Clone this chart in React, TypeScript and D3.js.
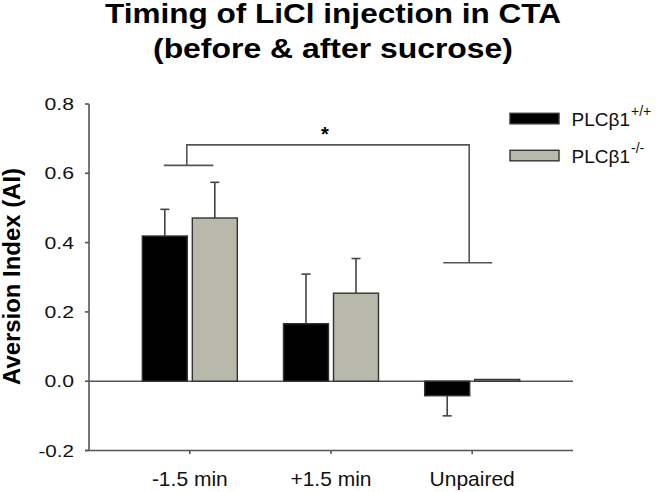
import React from "react";
import * as d3 from "d3";

const categories = ["-1.5 min", "+1.5 min", "Unpaired"];
const series = ["PLCβ1+/+", "PLCβ1-/-"];
const wtMeans = [0.419, 0.166, -0.042];
const wtErrs = [0.077, 0.143, 0.058];
const koMeans = [0.471, 0.254, 0.005];
const koErrs = [0.103, 0.1, 0];
const yTicks = [-0.2, 0.0, 0.2, 0.4, 0.6, 0.8];
const titleLines = ["Timing of LiCl injection in CTA", "(before & after sucrose)"];
const yLabel = "Aversion Index (AI)";
const legendLabels = [
  { base: "PLCβ1", sup: "+/+" },
  { base: "PLCβ1", sup: "-/-" },
];
// significance bracket levels (data units)
const bracketLow = 0.623;
const bracketTop = 0.682;
const bracketRight = 0.342;

const W = 672;
const H = 492;
const FONT = "'Liberation Sans', Arial, Helvetica, sans-serif";
const AXIS = "#555";
const colors = ["#000000", "#b8b8ab"];

export default function App() {
  const x = d3.scalePoint<string>().domain(categories).range([89, 573]).padding(0.714);
  const sub = d3.scaleBand<number>().domain([0, 1]).range([-47.5, 47.5]).paddingInner(0.1);
  const y = d3.scaleLinear().domain([-0.2, 0.8]).range([450.5, 104]);
  const bw = sub.bandwidth();
  const values = [wtMeans, koMeans];
  const errs = [wtErrs, koErrs];

  const bars: JSX.Element[] = [];
  const errorBars: JSX.Element[] = [];
  categories.forEach((c, i) => {
    values.forEach((vals, s) => {
      const v = vals[i];
      const e = errs[s][i];
      const bx = (x(c) as number) + (sub(s) as number);
      const y0 = y(0);
      const yv = y(v);
      const cx = bx + bw / 2;
      if (e > 0) {
        const yEnd = v >= 0 ? y(v + e) : y(v - e);
        errorBars.push(
          <g key={`e${i}-${s}`} stroke="#444" strokeWidth={1.6}>
            <line x1={cx} x2={cx} y1={yv} y2={yEnd} />
            <line x1={cx - 4.5} x2={cx + 4.5} y1={yEnd} y2={yEnd} />
          </g>
        );
      }
      bars.push(
        <rect
          key={`b${i}-${s}`}
          x={bx}
          y={Math.min(y0, yv)}
          width={bw}
          height={Math.max(1, Math.abs(y0 - yv))}
          fill={colors[s]}
          stroke="#333"
          strokeWidth={1.4}
        />
      );
    });
  });

  const g1 = x(categories[0]) as number;
  const g3 = x(categories[2]) as number;

  return (
    <svg width={W} height={H} style={{ position: "absolute", left: 0, top: 0, background: "#fff" }} fontFamily={FONT}>
      <rect width={W} height={H} fill="#fff" />
      {/* Title */}
      <text x={333} y={22.5} textAnchor="middle" fontWeight="bold" fontSize={27} textLength={456} lengthAdjust="spacingAndGlyphs">
        {titleLines[0]}
      </text>
      <text x={333} y={57.5} textAnchor="middle" fontWeight="bold" fontSize={27} textLength={360} lengthAdjust="spacingAndGlyphs">
        {titleLines[1]}
      </text>

      {/* Y label */}
      <text
        transform={`translate(19.5, 276.5) rotate(-90)`}
        textAnchor="middle"
        fontWeight="bold"
        fontSize={23}
        textLength={217}
        lengthAdjust="spacingAndGlyphs"
      >
        {yLabel}
      </text>

      {/* Y axis */}
      <line x1={89} x2={89} y1={y(0.8)} y2={y(-0.2)} stroke={AXIS} strokeWidth={1.6} />
      {yTicks.map((t) => (
        <g key={t}>
          <line x1={85} x2={89} y1={y(t)} y2={y(t)} stroke={AXIS} strokeWidth={1.6} />
          <text
            x={74}
            y={y(t)}
            dy="0.36em"
            textAnchor="end"
            fontSize={17}
            textLength={t < 0 ? 35.5 : 29.5}
            lengthAdjust="spacingAndGlyphs"
            fill="#111"
          >
            {t.toFixed(1)}
          </text>
        </g>
      ))}

      {/* X axis at bottom */}
      <line x1={85} x2={573} y1={y(-0.2)} y2={y(-0.2)} stroke={AXIS} strokeWidth={1.6} />
      {categories.map((c) => (
        <g key={c}>
          <line x1={x(c)} x2={x(c)} y1={y(-0.2)} y2={y(-0.2) + 3.5} stroke={AXIS} strokeWidth={1.6} />
          <text x={x(c)} y={486} textAnchor="middle" fontSize={21} fill="#111">
            {c}
          </text>
        </g>
      ))}

      {/* zero line */}
      <line x1={89} x2={573} y1={y(0)} y2={y(0)} stroke={AXIS} strokeWidth={1.6} />

      {errorBars}
      {bars}

      {/* significance bracket */}
      <g stroke={AXIS} strokeWidth={1.6} fill="none">
        <line x1={g1 - 26} x2={g1 + 23.5} y1={y(bracketLow)} y2={y(bracketLow)} />
        <polyline
          points={`${g1 - 3},${y(bracketLow)} ${g1 - 3},${y(bracketTop)} ${g3 - 3},${y(bracketTop)} ${g3 - 3},${y(bracketRight)}`}
        />
        <line x1={g3 - 29} x2={g3 + 20} y1={y(bracketRight)} y2={y(bracketRight)} />
      </g>
      <text x={325} y={y(bracketTop) - 4} textAnchor="middle" fontSize={20} fontWeight="bold">
        *
      </text>

      {/* Legend */}
      {legendLabels.map((l, i) => {
        const top = i === 0 ? 113.3 : 150.3;
        return (
          <g key={i}>
            <rect x={510} y={top} width={49} height={10.5} fill={colors[i]} stroke="#333" strokeWidth={1.4} />
            <text x={571.5} y={top + 12.5} fontSize={19} fill="#111">
              {l.base}
              <tspan dx={1} dy={-9.5} fontSize={14}>
                {l.sup}
              </tspan>
            </text>
          </g>
        );
      })}
    </svg>
  );
}
